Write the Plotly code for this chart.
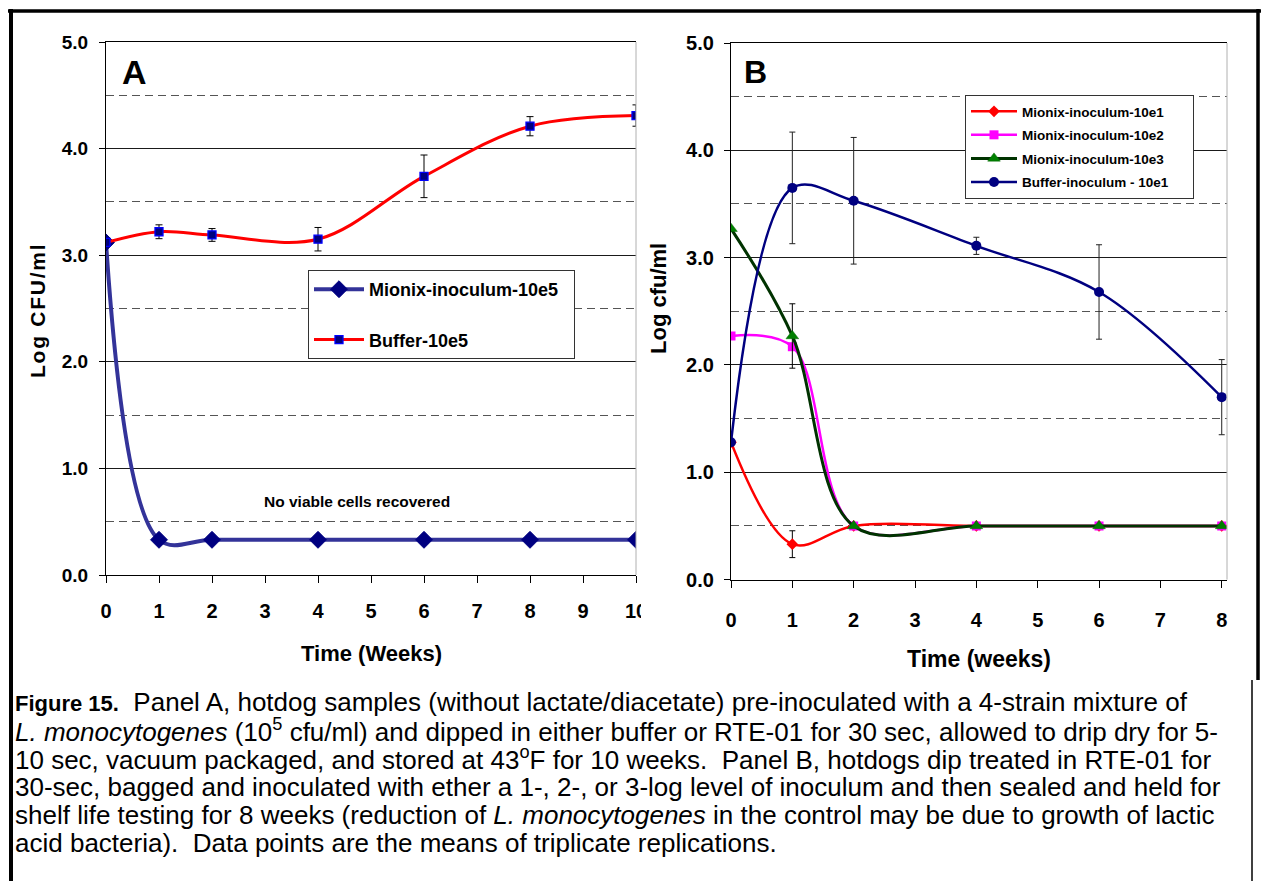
import plotly.graph_objects as go

W, H = 1262, 882

# ---------------- data ----------------
weeks_a = [0, 1, 2, 4, 6, 8, 10]
mionix_a = [3.12, 0.33, 0.33, 0.33, 0.33, 0.33, 0.33]
buffer_a = [3.12, 3.22, 3.19, 3.15, 3.74, 4.21, 4.31]
buffer_a_err = [None, 0.065, 0.06, 0.11, 0.20, 0.09, 0.10]

weeks_b = [0, 1, 2, 4, 6, 8]
mionix_b1 = [1.28, 0.33, 0.50, 0.50, 0.50, 0.50]
mionix_b1_err = [None, 0.125, None, None, None, None]
mionix_b2 = [2.27, 2.17, 0.50, 0.50, 0.50, 0.50]
mionix_b3 = [3.27, 2.27, 0.50, 0.50, 0.50, 0.50]
mionix_b3_err = [None, 0.30, None, None, None, None]
buffer_b = [1.28, 3.65, 3.53, 3.11, 2.68, 1.70]
buffer_b_err = [None, 0.52, 0.59, 0.08, 0.44, 0.35]

x_ticks_a = list(range(0, 11))
x_ticks_b = list(range(0, 9))
y_ticks = [0, 1, 2, 3, 4, 5]
y_tick_text = ["0.0", "1.0", "2.0", "3.0", "4.0", "5.0"]

caption_lines = [
    '<b><span style="font-size:22px">Figure 15.</span></b>  Panel A, hotdog samples (without lactate/diacetate) pre-inoculated with a 4-strain mixture of',
    '<i>L. monocytogenes</i> (10<sup>5</sup> cfu/ml) and dipped in either buffer or RTE-01 for 30 sec, allowed to drip dry for 5-',
    '10 sec, vacuum packaged, and stored at 43<sup>o</sup>F for 10 weeks.  Panel B, hotdogs dip treated in RTE-01 for',
    '30-sec, bagged and inoculated with ether a 1-, 2-, or 3-log level of inoculum and then sealed and held for',
    'shelf life testing for 8 weeks (reduction of <i>L. monocytogenes</i> in the control may be due to growth of lactic',
    'acid bacteria).  Data points are the means of triplicate replications.',
]

SANS = "Liberation Sans, Arial, sans-serif"
HS = "\u200a"   # hair space for the letter-spaced axis titles
PAD = "\u00a0"  # trailing padding so legend boxes get the original width


def px(x):
    return x / W


def py(y):
    return 1 - y / H


def spaced(s):
    return HS.join(s)


fig = go.Figure()

# ---------------- panel A ----------------
fig.add_trace(go.Scatter(
    x=weeks_a, y=mionix_a, name="Mionix-inoculum-10e5" + PAD * 2, mode="lines+markers",
    line=dict(color="#333399", width=4, shape="spline"),
    marker=dict(symbol="diamond", size=13, color="#000080", line=dict(color="#000080", width=1)),
    xaxis="x", yaxis="y", legend="legend", legendgroup="a1",
))
fig.add_trace(go.Scatter(
    x=weeks_a, y=buffer_a, name="Buffer-10e5", mode="lines+markers",
    line=dict(color="#FF0000", width=3, shape="spline"),
    marker=dict(symbol="square", size=8, color="#000080", line=dict(color="#0000FF", width=1.3)),
    error_y=dict(type="data", array=buffer_a_err, visible=True, color="black", thickness=1, width=3.5),
    xaxis="x", yaxis="y", legend="legend", legendgroup="a2",
))

# ---------------- panel B ----------------
fig.add_trace(go.Scatter(
    x=weeks_b, y=mionix_b1, name="Mionix-inoculum-10e1", mode="lines+markers",
    line=dict(color="#FF0000", width=2.5, shape="spline"),
    marker=dict(symbol="diamond", size=9, color="#FF0000"),
    error_y=dict(type="data", array=mionix_b1_err, visible=True, color="black", thickness=1, width=3),
    xaxis="x2", yaxis="y2", legend="legend2", legendgroup="b1",
))
fig.add_trace(go.Scatter(
    x=weeks_b, y=mionix_b2, name="Mionix-inoculum-10e2", mode="lines+markers",
    line=dict(color="#FF00FF", width=2.5, shape="spline"),
    marker=dict(symbol="square", size=9, color="#FF00FF"),
    xaxis="x2", yaxis="y2", legend="legend2", legendgroup="b2",
))
fig.add_trace(go.Scatter(
    x=weeks_b, y=mionix_b3, name="Mionix-inoculum-10e3", mode="lines+markers",
    line=dict(color="#003300", width=3, shape="spline"),
    marker=dict(symbol="triangle-up", size=11, color="#008000", line=dict(color="#006600", width=0.5)),
    error_y=dict(type="data", array=mionix_b3_err, visible=True, color="black", thickness=1, width=3),
    xaxis="x2", yaxis="y2", legend="legend2", legendgroup="b3",
))
fig.add_trace(go.Scatter(
    x=weeks_b, y=buffer_b, name="Buffer-inoculum - 10e1" + PAD * 5, mode="lines+markers",
    line=dict(color="#000080", width=2.5, shape="spline"),
    marker=dict(symbol="circle", size=10, color="#000080"),
    error_y=dict(type="data", array=buffer_b_err, visible=True, color="#222222", thickness=1, width=3),
    xaxis="x2", yaxis="y2", legend="legend2", legendgroup="b4",
))

grid_common = dict(
    showgrid=True, gridcolor="#1a1a1a", gridwidth=1,
    showline=True, linecolor="black", linewidth=1.2,
    zeroline=False, automargin=False,
)

minor_y = dict(dtick=1, tick0=0.5, showgrid=True, griddash="8px,5px", gridcolor="#555555", gridwidth=1, ticks="")
tick_font = dict(family=SANS, size=20, color="black", weight="bold")

fig.update_layout(
    width=W, height=H, margin=dict(l=0, r=0, t=0, b=0, pad=0, autoexpand=False),
    paper_bgcolor="white", plot_bgcolor="white", showlegend=True,
    xaxis=dict(
        domain=[px(106), px(636)], range=[0, 10], tickvals=x_ticks_a, anchor="y",
        showgrid=False, showline=True, linecolor="black", linewidth=1.2, mirror=True, zeroline=False,
        automargin=False, ticks="outside", ticklen=7, tickcolor="black",
        tickfont=tick_font, ticklabelstandoff=11,
    ),
    yaxis=dict(
        domain=[py(575), py(42)], range=[0, 5], tickvals=y_ticks, ticktext=y_tick_text, anchor="x",
        ticks="outside", ticklen=6, tickcolor="black", minor=minor_y,
        tickfont=dict(family=SANS, size=19, color="black", weight="bold"), ticklabelstandoff=7,
        **grid_common,
    ),
    xaxis2=dict(
        domain=[px(731), px(1227)], range=[0, 8.086], tickvals=x_ticks_b, anchor="y2",
        showgrid=False, showline=True, linecolor="black", linewidth=1.2, mirror=True, zeroline=False,
        automargin=False, ticks="outside", ticklen=7, tickcolor="black",
        tickfont=tick_font, ticklabelstandoff=15,
    ),
    yaxis2=dict(
        domain=[py(579.6), py(43)], range=[0, 5], tickvals=y_ticks, ticktext=y_tick_text, anchor="x2",
        ticks="outside", ticklen=6, tickcolor="black", minor=minor_y,
        tickfont=tick_font, ticklabelstandoff=6,
        **grid_common,
    ),
    legend=dict(
        x=px(308), y=py(270), xanchor="left", yanchor="top",
        bgcolor="white", bordercolor="#333333", borderwidth=1,
        font=dict(family=SANS, size=18, color="black", weight="bold"),
        tracegroupgap=24, itemwidth=50,
    ),
    legend2=dict(
        x=px(965), y=py(95), xanchor="left", yanchor="top",
        bgcolor="white", bordercolor="#333333", borderwidth=1,
        font=dict(family=SANS, size=13.5, color="black", weight="bold"),
        tracegroupgap=3, itemwidth=46,
    ),
)

ann = []


def label(x, y, text, size, angle=0, ref="paper"):
    ann.append(dict(x=x, y=y, xref=ref if ref == "paper" else ref[0], yref=ref if ref == "paper" else ref[1],
                    text=text, textangle=angle, showarrow=False, xanchor="center", yanchor="middle",
                    font=dict(family=SANS, size=size, color="black", weight="bold")))


# axis titles
label(px(37), py(311), spaced("Log CFU/ml"), 21, angle=-90)
label(px(371), py(653), "Time (Weeks)", 22)
label(px(658), py(298), "Log cfu/ml", 22, angle=-90)
label(px(979), py(659), "Time (weeks)", 23)
# panel letters
label(px(134), py(72), "A", 34)
label(px(755), py(72), "B", 32)
# in-plot note
label(4.74, 0.69, "No viable cells recovered", 15.5, ref=("x", "y"))
# caption
for i, line in enumerate(caption_lines):
    ann.append(dict(x=px(13), y=py(702 + 28.2 * i), xref="paper", yref="paper", text=line,
                    xanchor="left", yanchor="middle", showarrow=False,
                    font=dict(family=SANS, size=26, color="black")))
fig.update_layout(annotations=ann)

shapes = []
# right plot borders (light gray)
for xr, yr in (("x domain", "y domain"), ("x2 domain", "y2 domain")):
    shapes.append(dict(type="line", xref=xr, yref=yr, x0=1, x1=1, y0=0, y1=1,
                       line=dict(color="#b0b0b0", width=1), layer="above"))
# clip the "10" label at the panel edge like in the original
shapes.append(dict(type="rect", xref="paper", yref="paper", x0=px(641), x1=px(652), y0=py(625), y1=py(590),
                   fillcolor="white", line=dict(width=0), layer="above"))
# outer frame
shapes.append(dict(type="line", xref="paper", yref="paper", x0=px(8), x1=px(1261), y0=py(11), y1=py(11),
                   line=dict(color="black", width=3.5)))
shapes.append(dict(type="line", xref="paper", yref="paper", x0=px(11), x1=px(11), y0=py(9), y1=py(881),
                   line=dict(color="black", width=4)))
shapes.append(dict(type="line", xref="paper", yref="paper", x0=px(1258), x1=px(1258), y0=py(9), y1=py(680),
                   line=dict(color="black", width=3.5)))
shapes.append(dict(type="line", xref="paper", yref="paper", x0=px(1252), x1=px(1252), y0=py(680), y1=py(881),
                   line=dict(color="black", width=1.5)))
fig.update_layout(shapes=shapes)

fig.write_html("out.html")
